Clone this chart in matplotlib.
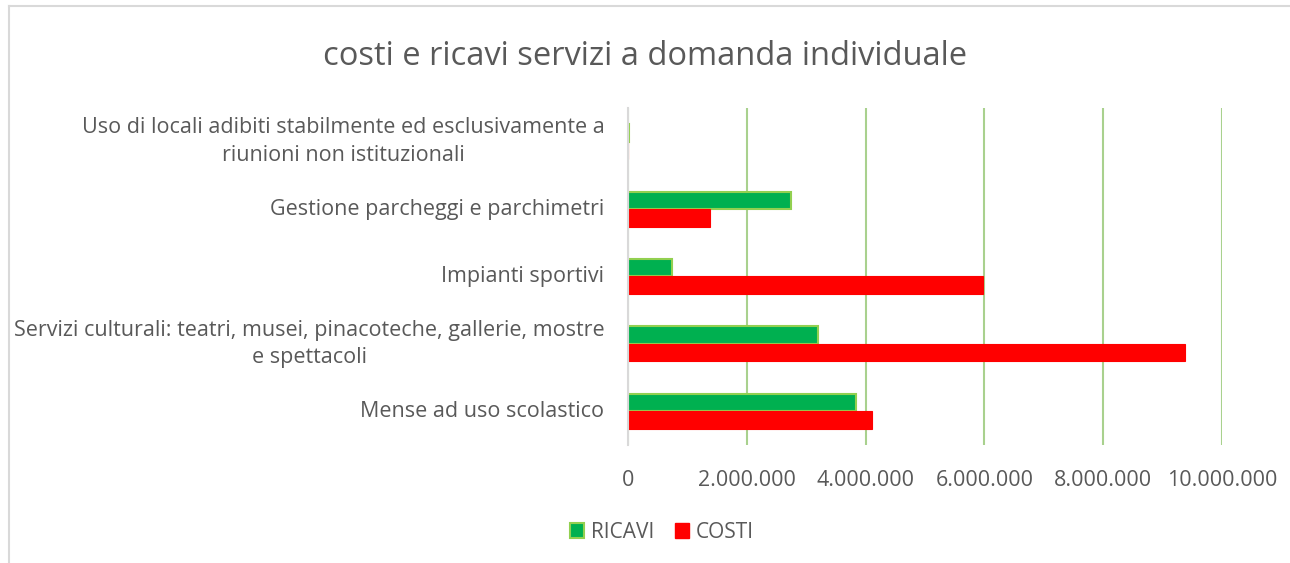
import matplotlib
matplotlib.use("Agg")
import matplotlib.pyplot as plt
from matplotlib.lines import Line2D
from matplotlib.ticker import FuncFormatter
import numpy as np

# categories bottom to top, as drawn
categories = [
    "Mense ad uso scolastico",
    "Servizi culturali: teatri, musei, pinacoteche, gallerie, mostre\ne spettacoli",
    "Impianti sportivi",
    "Gestione parcheggi e parchimetri",
    "Uso di locali adibiti stabilmente ed esclusivamente a\nriunioni non istituzionali",
]
ricavi = [3840000, 3200000, 740000, 2740000, 15000]
costi = [4110000, 9380000, 5980000, 1380000, 0]
x_ticks = [0, 2000000, 4000000, 6000000, 8000000, 10000000]

GREEN = "#00B050"
GREEN_EDGE = "#92D050"
RED = "#FF0000"
GRID = "#A9D18E"
TEXT = "#595959"

plt.rcParams["font.family"] = ["Open Sans", "DejaVu Sans"]

fig = plt.figure(figsize=(12.9, 5.63), dpi=100)
ax = fig.add_axes([0.4868, 0.2096, 0.4605, 0.5986])

y = np.arange(len(categories))
h = 0.26
ax.barh(y + h / 2, ricavi, height=h, color=GREEN, edgecolor=GREEN_EDGE,
        linewidth=1.5, label="RICAVI", zorder=3)
ax.barh(y - h / 2, costi, height=h, color=RED, edgecolor=RED,
        linewidth=0.8, label="COSTI", zorder=3)

ax.set_xlim(0, 10000000)
ax.set_ylim(-0.5, len(categories) - 0.5)
ax.set_xticks(x_ticks)
ax.xaxis.set_major_formatter(
    FuncFormatter(lambda v, p: f"{int(v):,}".replace(",", ".")))
ax.set_yticks(y)
ax.set_yticklabels(categories, multialignment="center", va="center")
for lbl in ax.get_yticklabels():
    lbl.set_linespacing(1.4)

ax.grid(axis="x", color=GRID, linewidth=1.5, zorder=0)
ax.tick_params(axis="both", length=0, labelsize=15.5, colors=TEXT)
ax.tick_params(axis="x", pad=18)
ax.tick_params(axis="y", pad=17)
for side in ("top", "right", "bottom"):
    ax.spines[side].set_visible(False)
ax.spines["left"].set_color("#D9D9D9")
ax.spines["left"].set_linewidth(1.5)
ax.spines["left"].set_zorder(4)

fig.text(0.5, 0.9, "costi e ricavi servizi a domanda individuale",
         ha="center", va="center", fontsize=23.5, color=TEXT)

handles = [
    plt.Rectangle((0, 0), 1, 1, facecolor=GREEN, edgecolor=GREEN_EDGE, linewidth=1.5),
    plt.Rectangle((0, 0), 1, 1, facecolor=RED, edgecolor=RED),
]
fig.legend(handles, ["RICAVI", "COSTI"], loc="center", bbox_to_anchor=(0.513, 0.055),
           ncol=2, frameon=False, fontsize=15, handlelength=0.7, handleheight=0.7,
           handletextpad=0.3, columnspacing=1.0, labelcolor=TEXT)

# chart outer border
fig.add_artist(Line2D([9 / 1290, 9 / 1290], [0, 1 - 6 / 563],
                      transform=fig.transFigure, color="#D9D9D9", linewidth=1.5))
fig.add_artist(Line2D([9 / 1290, 1], [1 - 6 / 563, 1 - 6 / 563],
                      transform=fig.transFigure, color="#D9D9D9", linewidth=1.5))

fig.savefig("out.png", dpi=100)
